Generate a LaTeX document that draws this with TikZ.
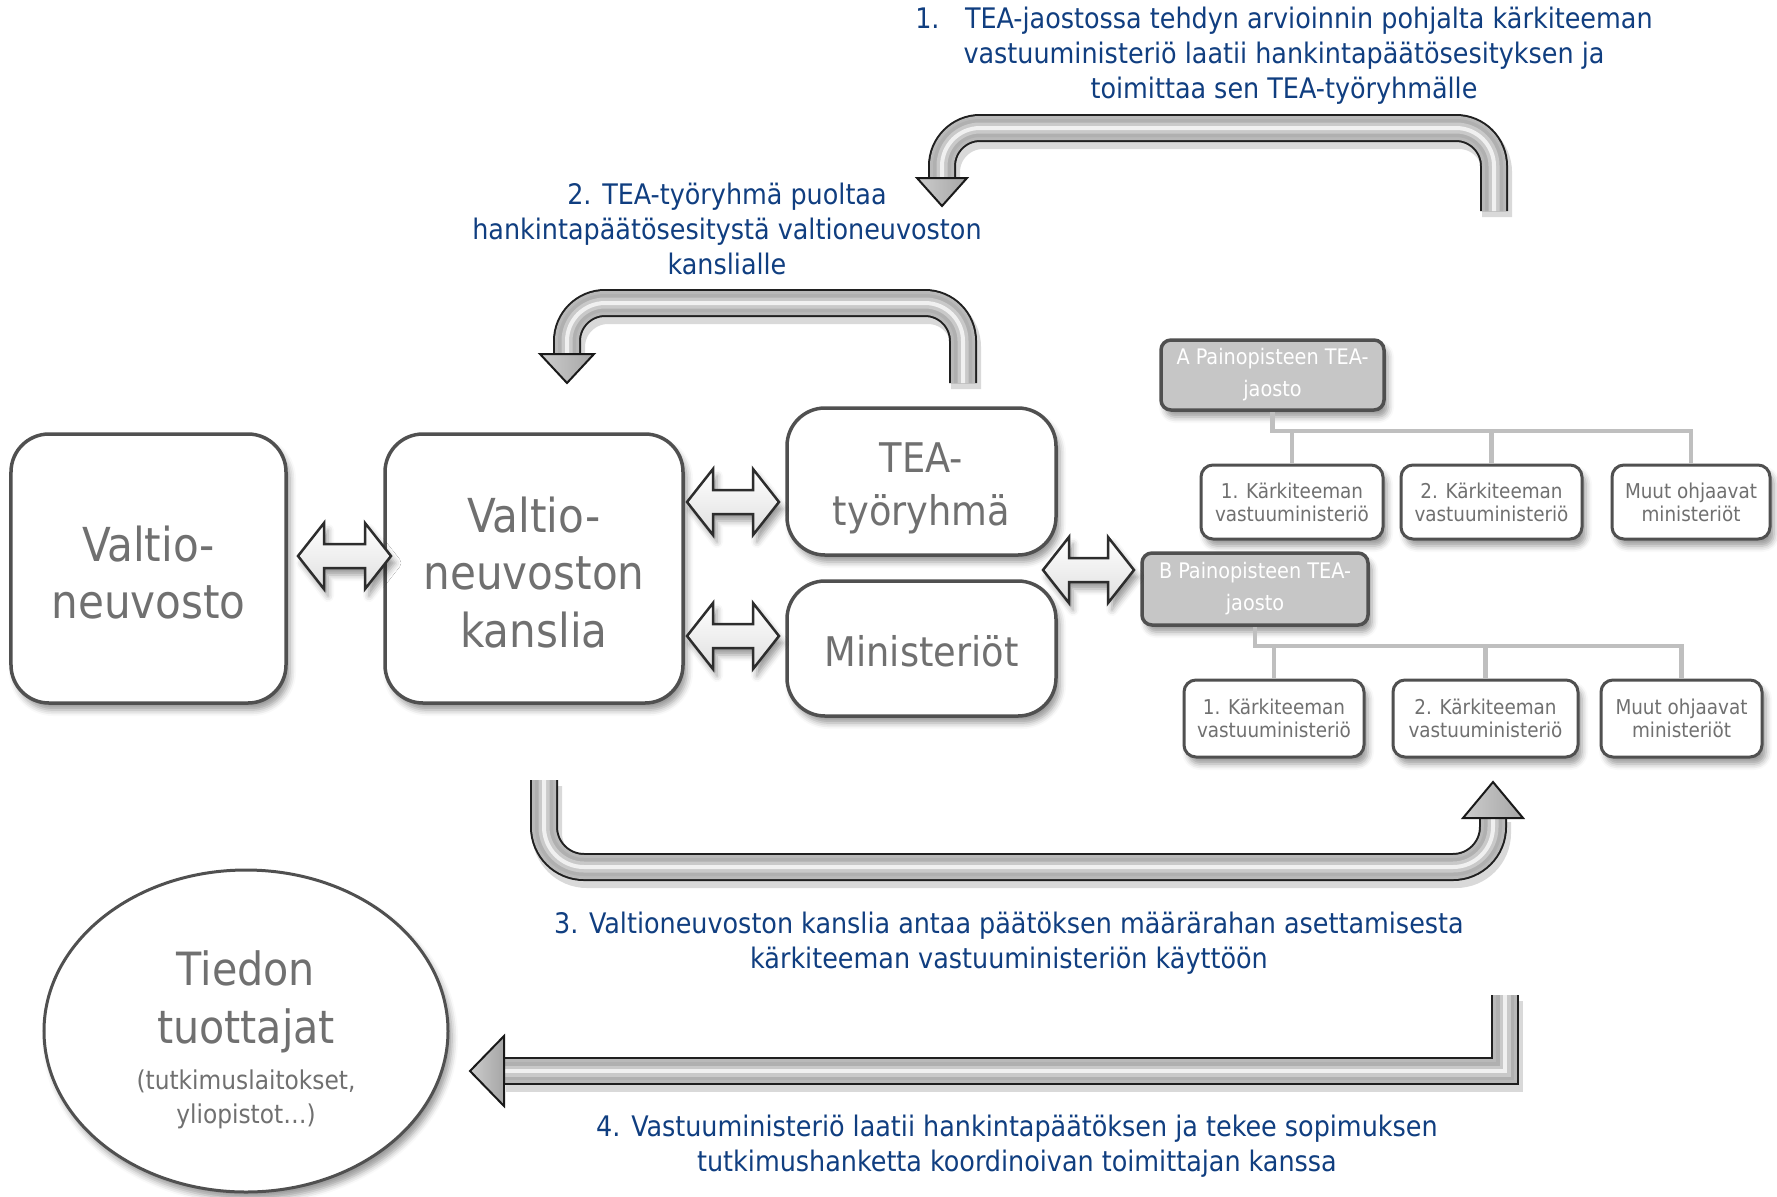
\documentclass[tikz,border=0pt]{standalone}
\usepackage{fontspec}
\setmainfont{DejaVu Sans Condensed}
\usetikzlibrary{shadows.blur,calc,shapes.geometric}
\definecolor{lbl}{RGB}{16,62,128}
\definecolor{boxtxt}{RGB}{112,112,112}
\definecolor{boxline}{RGB}{80,80,80}
\tikzset{
  shad/.style={blur shadow={shadow xshift=4bp, shadow yshift=-7bp, shadow blur radius=6bp, shadow opacity=40}},
  bigbox/.style={draw=boxline, line width=3.5bp, fill=white, rounded corners=38bp, inner sep=0pt, shad},
  bigtxt/.style={text=boxtxt, align=center, inner sep=0pt, font=\fontsize{47}{58}\selectfont},
  midtxt/.style={text=boxtxt, align=center, inner sep=0pt, font=\fontsize{41}{53}\selectfont},
  smallbox/.style={draw=boxline, line width=3bp, fill=white, rounded corners=12bp, text=boxtxt, align=center, inner sep=0pt, shad, font=\fontsize{20.5}{23}\selectfont},
  jaosto/.style={draw=boxline, line width=3.5bp, fill=gray!45, rounded corners=10bp, text=white, align=center, inner sep=0pt, shad, font=\fontsize{21.5}{32}\selectfont},
  treeline/.style={draw=gray!50, line width=4.5bp},
  lbl/.style={text=lbl, align=center, font=\fontsize{28.4}{35}\selectfont},
  dblarrow/.style={top color=white, bottom color=gray!25, draw=gray!35!black, line width=2.5bp, line join=miter, shad},
  headstyle/.style={left color=gray!40, right color=gray!70, draw=gray!20!black, line width=2bp, line join=miter}
}
\newcommand{\dblarr}[2]{%
  \path[dblarrow] let \p1=(#1), \p2=(#2) in
  (\x1,\y1) -- (\x1+26bp,\y1+33bp) -- (\x1+26bp,\y1+12bp) -- (\x2-26bp,\y1+12bp) -- (\x2-26bp,\y1+33bp) -- (\x2,\y1)
  -- (\x2-26bp,\y1-33bp) -- (\x2-26bp,\y1-12bp) -- (\x1+26bp,\y1-12bp) -- (\x1+26bp,\y1-33bp) -- cycle;}
\newcommand{\tube}[2]{%
  \draw[line width=30bp, black, opacity=0.15, #1, transform canvas={shift={(3bp,-6bp)}}] #2;
  \draw[line width=28bp, gray!25!black, #1] #2;
  \draw[line width=24bp, gray!55, #1] #2;
  \draw[line width=18bp, gray!62, #1] #2;
  \draw[line width=11bp, gray!42, #1] #2;
  \draw[line width=4bp, gray!12, #1] #2;}
\begin{document}
\begin{tikzpicture}[x=1bp,y=-1bp]
\useasboundingbox (0,0) rectangle (1777,1196);

% tube arrows
\coordinate (t1a) at (1494,211); \coordinate (t1b) at (1494,128); \coordinate (t1c) at (942,128); \coordinate (t1d) at (942,180);
\tube{rounded corners=38bp}{(t1a) -- (t1b) -- (t1c) -- (t1d)}
\path[headstyle] (917,178) -- (967,178) -- (942,206) -- cycle;

\coordinate (t2a) at (963,383); \coordinate (t2b) at (963,303); \coordinate (t2c) at (567,303); \coordinate (t2d) at (567,356);
\tube{rounded corners=38bp}{(t2a) -- (t2b) -- (t2c) -- (t2d)}
\path[headstyle] (540,354) -- (594,354) -- (567,383) -- cycle;

\coordinate (t3a) at (544,780); \coordinate (t3b) at (544,867); \coordinate (t3c) at (1493,867); \coordinate (t3d) at (1493,816);
\tube{rounded corners=40bp}{(t3a) -- (t3b) -- (t3c) -- (t3d)}
\path[headstyle] (1463,818) -- (1523,818) -- (1493,782) -- cycle;

\coordinate (t4a) at (1505,995); \coordinate (t4b) at (1505,1071); \coordinate (t4c) at (503,1071);
\tube{sharp corners}{(t4a) -- (t4b) -- (t4c)}
\path[headstyle] (504,1036) -- (504,1106) -- (470,1071) -- cycle;

% labels
\node[lbl] (l1) at (1284,56) {1.\hspace{0.9em}TEA-jaostossa tehdyn arvioinnin pohjalta kärkiteeman\\vastuuministeriö laatii hankintapäätösesityksen ja\\toimittaa sen TEA-työryhmälle};
\node[lbl] (l2) at (727,229) {2. TEA-työryhmä puoltaa\\hankintapäätösesitystä valtioneuvoston\\kanslialle};
\node[lbl] (l3) at (1009,943) {3. Valtioneuvoston kanslia antaa päätöksen määrärahan asettamisesta\\kärkiteeman vastuuministeriön käyttöön};
\node[lbl] (l4) at (1017,1146) {4. Vastuuministeriö laatii hankintapäätöksen ja tekee sopimuksen\\tutkimushanketta koordinoivan toimittajan kanssa};

% main boxes
\node[bigbox, minimum width=275bp, minimum height=269bp] (vn) at (148.5,568.5) {};
\node[bigtxt] (vntxt) at ($(vn.center)+(0,4)$) {Valtio-\\neuvosto};
\node[bigbox, minimum width=298bp, minimum height=269bp] (vnk) at (534,568.5) {};
\node[bigtxt] (vnktxt) at ($(vnk.center)+(0,4)$) {Valtio-\\neuvoston\\kanslia};
\node[bigbox, minimum width=269bp, minimum height=147bp] (tea) at (921.5,481.5) {};
\node[midtxt] (teatxt) at ($(tea.center)+(0,7)$) {TEA-\\työryhmä};
\node[bigbox, minimum width=269bp, minimum height=135bp] (min) at (921.5,648.5) {};
\node[midtxt] (mintxt) at ($(min.center)+(0,3)$) {Ministeriöt};

% A tree
\node[jaosto, minimum width=223bp, minimum height=70bp] (ja) at (1272.5,375) {A Painopisteen TEA-\\jaosto};
\node[smallbox, minimum width=182bp, minimum height=74bp] (a1) at (1292,502) {1. Kärkiteeman\\vastuuministeriö};
\node[smallbox, minimum width=181bp, minimum height=74bp] (a2) at (1491.5,502) {2. Kärkiteeman\\vastuuministeriö};
\node[smallbox, minimum width=158bp, minimum height=74bp] (a3) at (1691,502) {Muut ohjaavat\\ministeriöt};
\coordinate (ha) at (0,431);
\draw[treeline] (ja.south) -- (ja.south |- ha) -- (a3.north |- ha) -- (a3.north);
\draw[treeline] (a1.north) -- (a1.north |- ha);
\draw[treeline] (a2.north) -- (a2.north |- ha);

% B tree
\node[jaosto, minimum width=226bp, minimum height=72bp] (jb) at (1255,589) {B Painopisteen TEA-\\jaosto};
\node[smallbox, minimum width=180bp, minimum height=77bp] (b1) at (1274,718.5) {1. Kärkiteeman\\vastuuministeriö};
\node[smallbox, minimum width=185bp, minimum height=77bp] (b2) at (1485.5,718.5) {2. Kärkiteeman\\vastuuministeriö};
\node[smallbox, minimum width=161bp, minimum height=77bp] (b3) at (1681.5,718.5) {Muut ohjaavat\\ministeriöt};
\coordinate (hb) at (0,646);
\draw[treeline] (jb.south) -- (jb.south |- hb) -- (b3.north |- hb) -- (b3.north);
\draw[treeline] (b1.north) -- (b1.north |- hb);
\draw[treeline] (b2.north) -- (b2.north |- hb);

% ellipse
\node[ellipse, draw=boxline, line width=3bp, fill=white, shad, minimum width=404bp, minimum height=322bp, inner sep=0pt] (tt) at (246,1031) {};
\node[text=boxtxt, align=center, inner sep=0pt, font=\fontsize{46}{58}\selectfont] (tttxt) at (246,1040)
  {Tiedon\\tuottajat\\[-12bp]\fontsize{26}{35}\selectfont (tutkimuslaitokset,\\[-23bp]\fontsize{26}{35}\selectfont yliopistot…)};

% double arrows
\coordinate (d1l) at (298,556); \coordinate (d1r) at (391,556);
\coordinate (d2l) at (687,502); \coordinate (d2r) at (779,502);
\coordinate (d3l) at (687,636); \coordinate (d3r) at (779,636);
\coordinate (d4l) at (1043,570); \coordinate (d4r) at (1134,570);
\dblarr{d1l}{d1r}
\dblarr{d2l}{d2r}
\dblarr{d3l}{d3r}
\dblarr{d4l}{d4r}
\end{tikzpicture}
\end{document}
